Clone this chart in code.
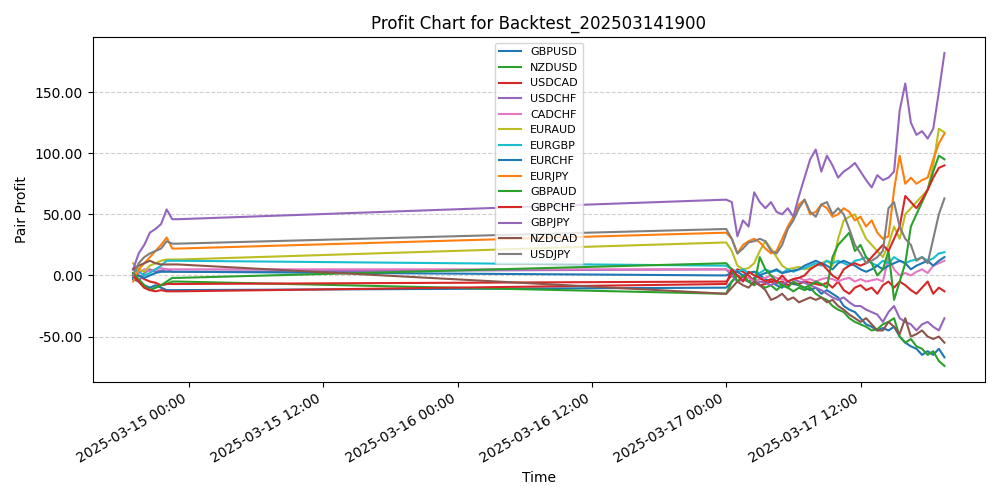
import numpy as np, pandas as pd, seaborn as sns
import matplotlib
matplotlib.use("Agg")
import matplotlib.pyplot as plt
import matplotlib.dates as mdates
from matplotlib.ticker import FormatStrFormatter

times = list(pd.date_range("2025-03-14 19:00", "2025-03-14 23:00", freq="30min")) + \
        list(pd.date_range("2025-03-17 00:00", "2025-03-17 19:30", freq="30min"))

GBPUSD = [-3,-5,-8,-10,-8,-10,-12,-12,-12, -10,-5,0,-3,-5,-2,0,-3,-5,-8,-10,-5,-7,-8,-10,-12,-10,-15,-12,-15,-18,-25,-28,-30,-35,-40,-42,-45,-43,-45,-42,-50,-55,-58,-60,-65,-62,-65,-60,-67]
NZDUSD = [0,-5,-10,-12,-10,-8,-7,-5,-5, -15,-5,0,-2,-5,-3,-8,-10,-8,-12,-8,-10,-13,-10,-12,-10,-15,-18,-20,-25,-28,-30,-35,-38,-40,-42,-45,-44,-40,-38,-35,-50,-55,-52,-58,-60,-65,-62,-70,-74]
USDCAD = [2,0,-3,-5,-6,-8,-7,-7,-7, -5,0,5,3,0,-5,-8,-7,-5,-6,-5,-8,-6,-7,-5,-6,-7,-8,-6,-10,-5,-12,-15,-10,-8,-12,-10,-15,-8,-5,-10,-5,-8,-12,-15,-10,-5,-15,-10,-13]
USDCHF = [0,-5,2,5,3,4,5,3,3, 5,0,-5,-3,-5,-8,-5,-6,-8,-5,-7,-5,-3,-5,-6,-8,-10,-12,-15,-18,-20,-18,-22,-25,-25,-28,-30,-32,-38,-30,-25,-35,-38,-40,-45,-40,-38,-42,-45,-35]
CADCHF = [0,2,5,3,5,6,5,5,5, 5,3,0,-3,-2,-5,-3,-2,0,-2,-3,-5,-3,-2,-4,-3,-5,-3,-2,-3,-5,-3,-2,-5,-3,-5,-4,-3,-5,15,5,0,2,0,3,5,2,8,10,12]
EURAUD = [10,5,3,8,10,12,13,13,13, 27,20,8,5,6,10,20,28,22,15,8,5,6,7,5,6,8,10,12,8,30,45,48,50,40,30,25,20,15,25,40,30,50,55,60,65,70,90,120,117]
EURGBP = [5,3,0,2,5,8,12,12,12, 8,5,3,5,2,3,2,5,3,4,2,5,3,5,6,8,10,8,12,10,12,10,8,12,13,15,10,8,12,10,15,12,10,12,13,15,12,14,18,19]
EURCHF = [-2,0,-2,0,2,3,3,3,3, 0,2,3,0,2,3,0,2,3,5,2,3,4,5,8,10,12,10,8,5,10,12,10,8,5,3,5,8,5,8,10,12,10,5,8,10,12,8,12,15]
EURJPY = [-5,5,10,15,20,25,31,22,22, 35,30,18,25,28,30,27,22,18,20,30,40,48,58,62,50,52,58,55,48,50,55,52,45,48,40,45,35,30,32,70,98,75,80,75,78,80,95,108,116]
GBPAUD = [2,-3,-8,-12,-10,-8,-5,-2,-2, 10,5,-5,0,-5,-8,15,5,0,-5,-8,-10,-5,-8,-10,-8,-5,-7,-10,15,25,30,35,20,25,15,10,0,5,20,-20,-5,10,40,50,60,70,85,98,95]
GBPCHF = [0,-5,-10,-12,-13,-12,-13,-13,-13, -7,5,0,-5,3,0,-2,-5,-3,-5,0,-5,-3,-2,0,5,8,10,5,0,-3,5,8,10,8,10,15,20,25,20,30,40,65,60,55,62,70,80,88,90]
GBPJPY = [5,18,25,35,38,42,54,46,46, 62,60,32,45,40,68,60,55,60,52,50,55,48,65,80,95,103,85,98,90,80,85,88,92,85,78,72,82,78,80,85,135,157,125,115,118,112,120,150,182]
NZDCAD = [5,8,10,12,10,9,9,9,9, -15,-10,-5,-8,-10,-5,-8,-12,-20,-18,-15,-20,-18,-22,-20,-18,-20,-18,-22,-20,-25,-28,-32,-35,-38,-35,-40,-45,-45,-38,-42,-48,-35,-50,-48,-45,-50,-52,-50,-55]
USDJPY = [0,10,15,18,20,22,28,26,26, 38,30,18,22,27,28,30,28,20,18,25,38,45,55,62,52,48,58,60,50,55,50,38,25,18,10,12,15,20,55,60,40,30,25,12,15,10,30,50,63]

pairs = ["GBPUSD","NZDUSD","USDCAD","USDCHF","CADCHF","EURAUD","EURGBP","EURCHF",
         "EURJPY","GBPAUD","GBPCHF","GBPJPY","NZDCAD","USDJPY"]
values = [GBPUSD,NZDUSD,USDCAD,USDCHF,CADCHF,EURAUD,EURGBP,EURCHF,EURJPY,GBPAUD,GBPCHF,GBPJPY,NZDCAD,USDJPY]
colors = ["#1f77b4","#2ca02c","#d62728","#9467bd","#e377c2","#bcbd22","#17becf","#1f77b4",
          "#ff7f0e","#2ca02c","#d62728","#9467bd","#8c564b","#7f7f7f"]

df = pd.concat([pd.DataFrame({"Time": times, "Profit": v, "Pair": p}) for p, v in zip(pairs, values)])

fig, ax = plt.subplots(figsize=(10, 5), dpi=100)
sns.lineplot(data=df, x="Time", y="Profit", hue="Pair", hue_order=pairs,
             palette=dict(zip(pairs, colors)), ax=ax, linewidth=1.5)
ax.set_title("Profit Chart for Backtest_202503141900")
ax.set_xlabel("Time")
ax.set_ylabel("Pair Profit")
ax.grid(axis="y", linestyle="--", alpha=0.6)
ax.yaxis.set_major_formatter(FormatStrFormatter("%.2f"))
ax.xaxis.set_major_locator(mdates.HourLocator(byhour=[0, 12]))
ax.xaxis.set_major_formatter(mdates.DateFormatter("%Y-%m-%d %H:%M"))
ax.legend(loc="upper center", fontsize=8, title=None)
fig.autofmt_xdate()
fig.tight_layout()
fig.savefig("out.png")
